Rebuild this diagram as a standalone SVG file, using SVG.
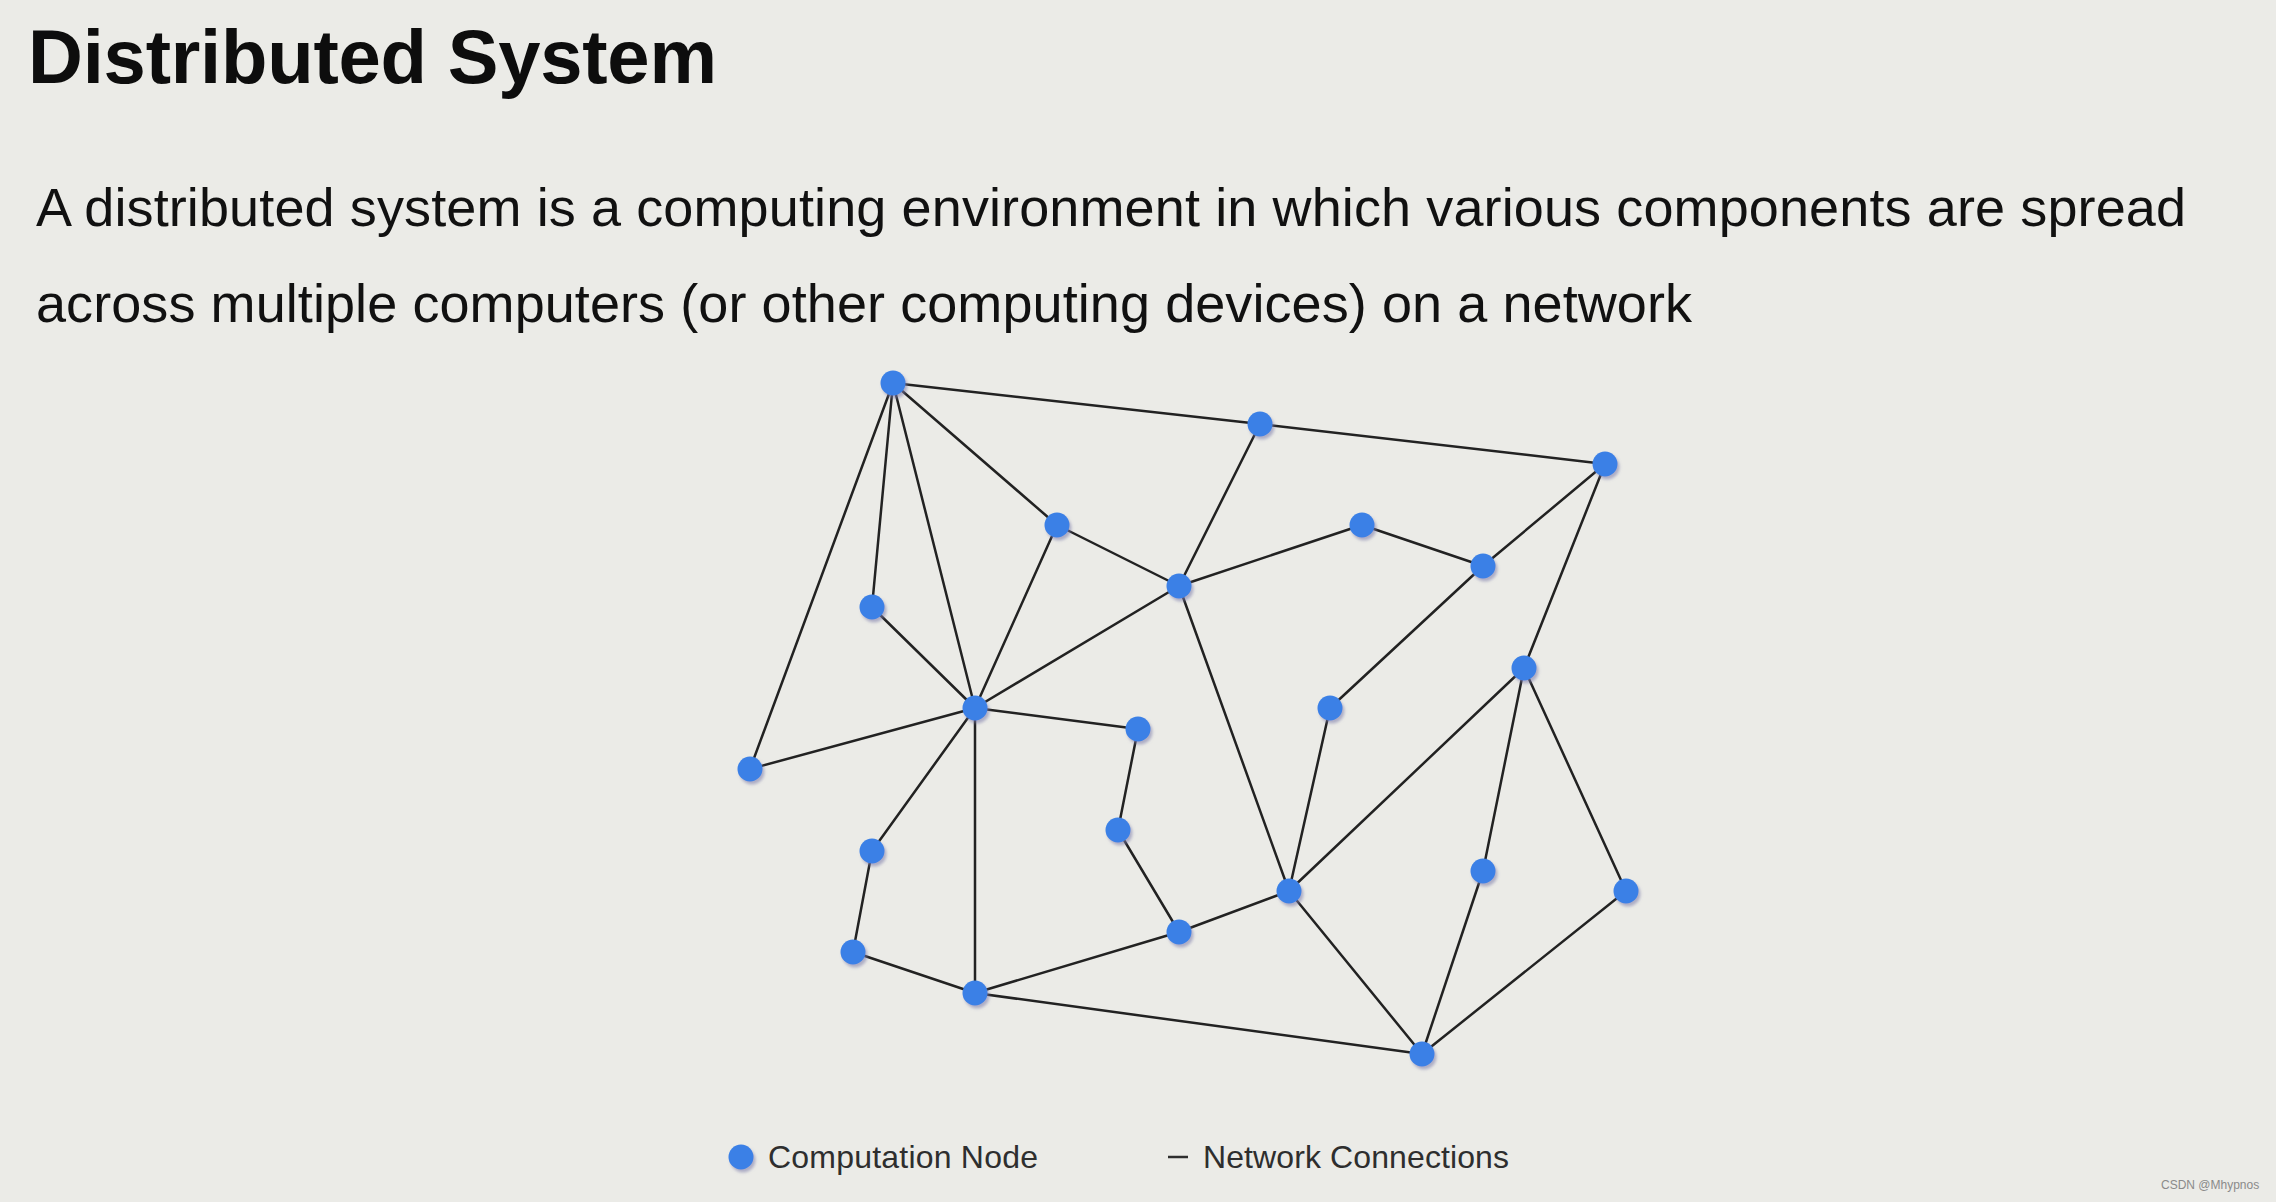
<svg xmlns="http://www.w3.org/2000/svg" width="2276" height="1202" viewBox="0 0 2276 1202">
<style>
.bg{fill:#ebebe7}
.title{font-family:"Liberation Sans",Arial,sans-serif;font-weight:bold;font-size:76px;fill:#0d0d0d}
.para{font-family:"Liberation Sans",Arial,sans-serif;font-size:54px;fill:#111}
.legend{font-family:"Liberation Sans",Arial,sans-serif;font-size:32px;fill:#2e2e2e}
.wm{font-family:"Liberation Sans",Arial,sans-serif;font-size:12px;fill:#8a8a8a}
.edge{stroke:#222;stroke-width:2.5;fill:none;stroke-linecap:round}
.node{fill:#3a80e6;filter:url(#sh)}
</style>
<defs>
<filter id="sh" x="-50%" y="-50%" width="200%" height="200%">
<feDropShadow dx="2" dy="3" stdDeviation="1.8" flood-color="#7a7aa8" flood-opacity="0.55"/>
</filter>
</defs>
<rect class="bg" x="0" y="0" width="2276" height="1202"/>
<text class="title" x="28" y="83" textLength="689">Distributed System</text>
<text class="para" x="36" y="226" textLength="2150">A distributed system is a computing environment in which various components are spread</text>
<text class="para" x="36" y="322" textLength="1656">across multiple computers (or other computing devices) on a network</text>
<g id="connectors">
<line class="edge" x1="893" y1="383" x2="1260" y2="424"/>
<line class="edge" x1="1260" y1="424" x2="1605" y2="464"/>
<line class="edge" x1="893" y1="383" x2="1057" y2="525"/>
<line class="edge" x1="893" y1="383" x2="872" y2="607"/>
<line class="edge" x1="893" y1="383" x2="975" y2="708"/>
<line class="edge" x1="893" y1="383" x2="750" y2="769"/>
<line class="edge" x1="1057" y1="525" x2="1179" y2="586"/>
<line class="edge" x1="1057" y1="525" x2="975" y2="708"/>
<line class="edge" x1="1260" y1="424" x2="1179" y2="586"/>
<line class="edge" x1="1179" y1="586" x2="1362" y2="525"/>
<line class="edge" x1="1362" y1="525" x2="1483" y2="566"/>
<line class="edge" x1="1483" y1="566" x2="1605" y2="464"/>
<line class="edge" x1="1605" y1="464" x2="1524" y2="668"/>
<line class="edge" x1="1483" y1="566" x2="1330" y2="708"/>
<line class="edge" x1="1179" y1="586" x2="975" y2="708"/>
<line class="edge" x1="1179" y1="586" x2="1289" y2="891"/>
<line class="edge" x1="872" y1="607" x2="975" y2="708"/>
<line class="edge" x1="975" y1="708" x2="750" y2="769"/>
<line class="edge" x1="975" y1="708" x2="1138" y2="729"/>
<line class="edge" x1="1138" y1="729" x2="1118" y2="830"/>
<line class="edge" x1="1118" y1="830" x2="1179" y2="932"/>
<line class="edge" x1="975" y1="708" x2="872" y2="851"/>
<line class="edge" x1="872" y1="851" x2="853" y2="952"/>
<line class="edge" x1="853" y1="952" x2="975" y2="993"/>
<line class="edge" x1="975" y1="708" x2="975" y2="993"/>
<line class="edge" x1="975" y1="993" x2="1179" y2="932"/>
<line class="edge" x1="1179" y1="932" x2="1289" y2="891"/>
<line class="edge" x1="975" y1="993" x2="1422" y2="1054"/>
<line class="edge" x1="1289" y1="891" x2="1422" y2="1054"/>
<line class="edge" x1="1289" y1="891" x2="1524" y2="668"/>
<line class="edge" x1="1330" y1="708" x2="1289" y2="891"/>
<line class="edge" x1="1524" y1="668" x2="1483" y2="871"/>
<line class="edge" x1="1524" y1="668" x2="1626" y2="891"/>
<line class="edge" x1="1483" y1="871" x2="1422" y2="1054"/>
<line class="edge" x1="1626" y1="891" x2="1422" y2="1054"/>
</g>
<g id="n1"><circle class="node" cx="893" cy="383" r="12.5"/></g>
<g id="n2"><circle class="node" cx="1260" cy="424" r="12.5"/></g>
<g id="n3"><circle class="node" cx="1605" cy="464" r="12.5"/></g>
<g id="n4"><circle class="node" cx="1057" cy="525" r="12.5"/></g>
<g id="n5"><circle class="node" cx="1362" cy="525" r="12.5"/></g>
<g id="n6"><circle class="node" cx="1483" cy="566" r="12.5"/></g>
<g id="n7"><circle class="node" cx="1179" cy="586" r="12.5"/></g>
<g id="n8"><circle class="node" cx="872" cy="607" r="12.5"/></g>
<g id="n9"><circle class="node" cx="1524" cy="668" r="12.5"/></g>
<g id="n10"><circle class="node" cx="975" cy="708" r="12.5"/></g>
<g id="n11"><circle class="node" cx="1330" cy="708" r="12.5"/></g>
<g id="n12"><circle class="node" cx="1138" cy="729" r="12.5"/></g>
<g id="n13"><circle class="node" cx="750" cy="769" r="12.5"/></g>
<g id="n14"><circle class="node" cx="1118" cy="830" r="12.5"/></g>
<g id="n15"><circle class="node" cx="872" cy="851" r="12.5"/></g>
<g id="n16"><circle class="node" cx="1483" cy="871" r="12.5"/></g>
<g id="n17"><circle class="node" cx="1289" cy="891" r="12.5"/></g>
<g id="n18"><circle class="node" cx="1626" cy="891" r="12.5"/></g>
<g id="n19"><circle class="node" cx="1179" cy="932" r="12.5"/></g>
<g id="n20"><circle class="node" cx="853" cy="952" r="12.5"/></g>
<g id="n21"><circle class="node" cx="975" cy="993" r="12.5"/></g>
<g id="n22"><circle class="node" cx="1422" cy="1054" r="12.5"/></g>
<g id="legend">
<circle class="node" cx="741" cy="1157" r="12.5"/>
<text class="legend" x="768" y="1168" textLength="270">Computation Node</text>
<line x1="1168" y1="1157" x2="1188" y2="1157" stroke="#2e2e2e" stroke-width="2.5"/>
<text class="legend" x="1203" y="1168" textLength="306">Network Connections</text>
</g>
<text class="wm" x="2161" y="1189">CSDN @Mhypnos</text>
</svg>
